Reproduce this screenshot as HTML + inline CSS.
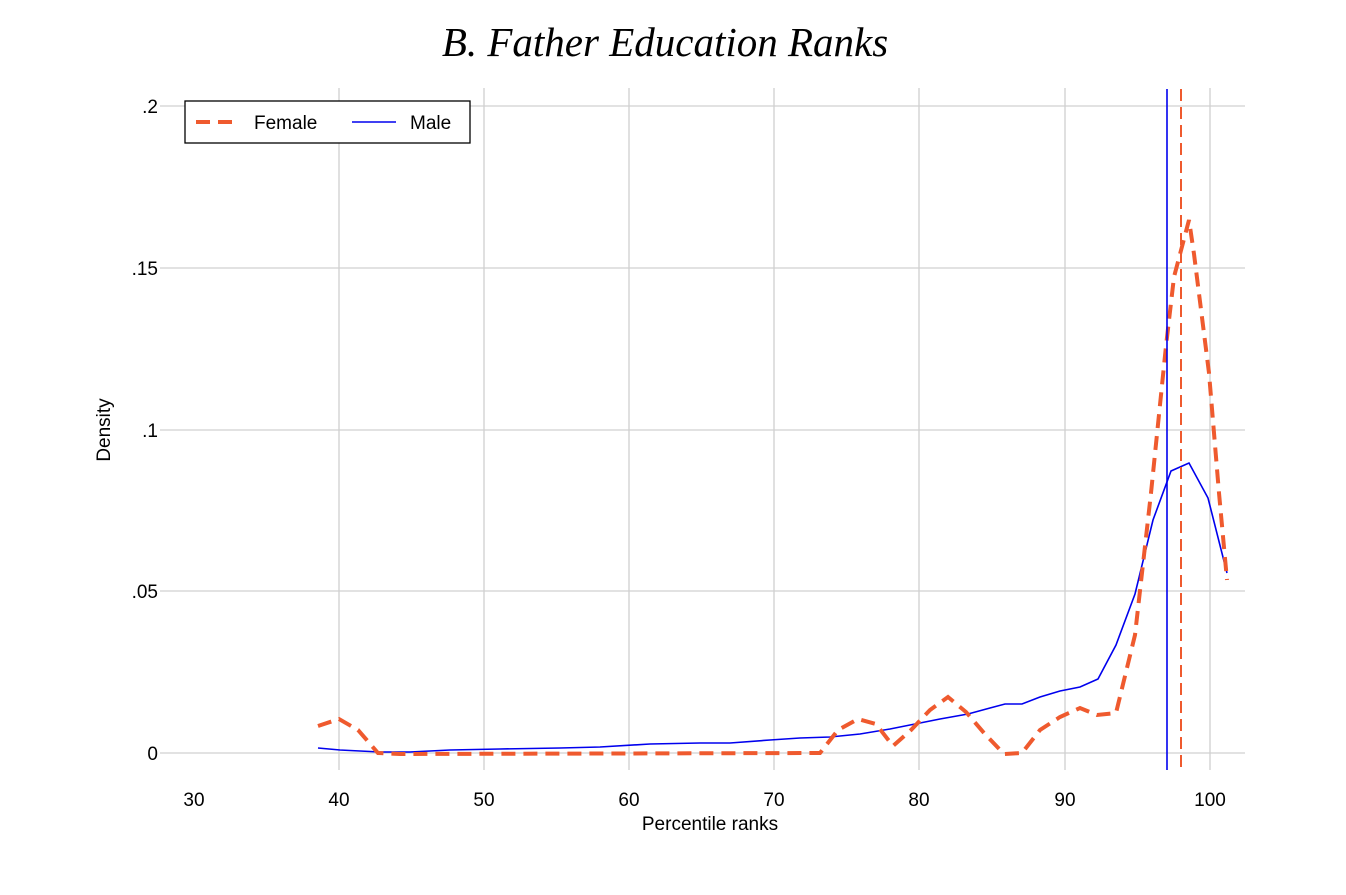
<!DOCTYPE html>
<html><head><style>
body{margin:0;background:#fff;}
svg text{font-family:"Liberation Sans",sans-serif;}
</style></head><body>
<svg width="1346" height="890" viewBox="0 0 1346 890" xmlns="http://www.w3.org/2000/svg">
<rect width="1346" height="890" fill="#fff"/>
<text x="665" y="56" text-anchor="middle" font-size="41" font-style="italic" style="font-family:'Liberation Serif',serif">B. Father Education Ranks</text>
<g stroke="#d0d0d0" stroke-width="1.3">
<line x1="160" y1="106" x2="1245" y2="106"/><line x1="160" y1="268" x2="1245" y2="268"/>
<line x1="160" y1="430" x2="1245" y2="430"/><line x1="160" y1="591" x2="1245" y2="591"/>
<line x1="160" y1="753" x2="1245" y2="753"/>
<line x1="339" y1="88" x2="339" y2="770"/><line x1="484" y1="88" x2="484" y2="770"/>
<line x1="629" y1="88" x2="629" y2="770"/><line x1="774" y1="88" x2="774" y2="770"/>
<line x1="919" y1="88" x2="919" y2="770"/><line x1="1065" y1="88" x2="1065" y2="770"/>
<line x1="1210" y1="88" x2="1210" y2="770"/>
</g>
<g font-size="19" text-anchor="end">
<text x="158" y="113">.2</text><text x="158" y="275">.15</text><text x="158" y="437">.1</text><text x="158" y="598">.05</text><text x="158" y="760">0</text>
</g>
<g font-size="19" text-anchor="middle">
<text x="194" y="806">30</text><text x="339" y="806">40</text><text x="484" y="806">50</text><text x="629" y="806">60</text><text x="774" y="806">70</text><text x="919" y="806">80</text><text x="1065" y="806">90</text><text x="1210" y="806">100</text>
<text x="710" y="830">Percentile ranks</text>
</g>
<text transform="translate(110,430) rotate(-90)" font-size="19" text-anchor="middle">Density</text>
<polyline fill="none" stroke="#0000ee" stroke-width="1.6" points="318,748 340,750 380,752 410,752 450,750 500,749 560,748 600,747 650,744 700,743 730,743 770,740 800,738 830,737 860,734 890,729 915,724 940,719 968,714 990,708 1005,704 1022,704 1040,697 1060,691 1080,687 1098,679 1116,645 1135,594 1153,520 1171,471 1189,463 1208,498 1227,573"/>
<polyline fill="none" stroke="#ef5a2e" stroke-width="4" stroke-dasharray="14,8" points="318,726 339,719 358,730 378,753 400,754 820,753 838,730 858,719 876,724 893,746 911,730 930,710 948,697 966,712 984,733 1004,754 1022,753 1040,730 1060,717 1080,708 1097,715 1116,713 1135,635 1151,493 1166,346 1174,277 1189,220 1194,254 1209,373 1219,493 1227,580"/>
<line x1="1167" y1="89" x2="1167" y2="770" stroke="#0000ee" stroke-width="1.6"/>
<line x1="1181" y1="89" x2="1181" y2="770" stroke="#ef5a2e" stroke-width="2" stroke-dasharray="12,6"/>
<rect x="185" y="101" width="285" height="42" fill="#fff" stroke="#000" stroke-width="1.3"/>
<line x1="196" y1="122" x2="240" y2="122" stroke="#ef5a2e" stroke-width="4" stroke-dasharray="14,8"/>
<text x="254" y="129" font-size="19">Female</text>
<line x1="352" y1="122" x2="396" y2="122" stroke="#0000ee" stroke-width="1.6"/>
<text x="410" y="129" font-size="19">Male</text>
</svg>
</body></html>
